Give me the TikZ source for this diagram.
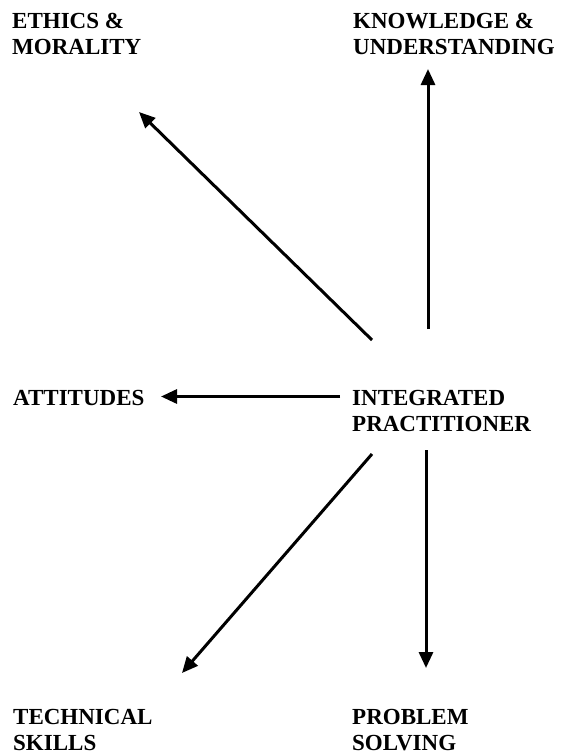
\documentclass[tikz,border=0pt]{standalone}
\usepackage{fontspec}
\setmainfont{Liberation Serif}
\usetikzlibrary{arrows.meta}
\tikzset{
  lbl/.style={anchor=north west,inner sep=0pt,align=left,font=\bfseries\fontsize{23}{26}\selectfont},
  arr/.style={line width=3pt,-{Triangle[length=16pt,width=14pt]}}
}
\begin{document}
\begin{tikzpicture}[x=1pt,y=-1pt]
\useasboundingbox (0,0) rectangle (561,753);
\node[lbl] (eth) at (12,13.5) {ETHICS \&\\MORALITY};
\node[lbl] (know) at (353,13.5) {KNOWLEDGE \&\\UNDERSTANDING};
\node[lbl] (att) at (13,390.5) {ATTITUDES};
\node[lbl] (ip) at (352,390.5) {INTEGRATED\\PRACTITIONER};
\node[lbl] (tech) at (13,709.5) {TECHNICAL\\SKILLS};
\node[lbl] (prob) at (352,709.5) {PROBLEM\\SOLVING};
\draw[arr] ([shift={(20,-50.5)}]ip.north west) -- ([shift={(127,98.5)}]eth.north west);
\draw[arr] ([shift={(76,-61.5)}]ip.north west) -- ([shift={(75,55.5)}]know.north west);
\draw[arr] ([shift={(-12,6)}]ip.north west) -- ([shift={(148,6)}]att.north west);
\draw[arr] ([shift={(20,63.5)}]ip.north west) -- ([shift={(169,-36.5)}]tech.north west);
\draw[arr] ([shift={(74,59.5)}]ip.north west) -- ([shift={(74,-41.5)}]prob.north west);
\end{tikzpicture}
\end{document}
